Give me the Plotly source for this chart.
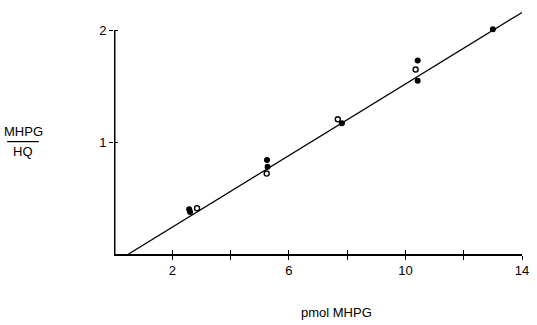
import numpy as np
import plotly.graph_objects as go

# Measured MHPG amounts (pmol) and MHPG/HQ peak-height ratios
filled_x = [2.58, 2.61, 5.25, 5.27, 7.82, 10.42, 10.42, 13.0]
filled_y = [0.40, 0.375, 0.84, 0.78, 1.17, 1.73, 1.55, 2.01]
open_x = [2.85, 5.24, 7.68, 10.35]
open_y = [0.41, 0.72, 1.205, 1.65]

# Calibration line: ratio = slope * (pmol - x0)
slope = 0.16
x0 = 0.5
line_x = np.array([x0, 14.0])
line_y = slope * (line_x - x0)

x_ticks = [2, 4, 6, 8, 10, 12, 14]
x_tick_text = ["2", "", "6", "", "10", "", "14"]
y_ticks = [1, 2]
y_tick_text = ["1", "2"]
y_max = 2.2

font = dict(family="Liberation Sans, Arial, sans-serif", size=13, color="black")

fig = go.Figure()
# Vertical axis line, stopping at the top tick
fig.add_trace(go.Scatter(x=[0, 0], y=[0, max(y_ticks)], mode="lines",
                         line=dict(color="black", width=3), showlegend=False,
                         hoverinfo="skip"))
fig.add_trace(go.Scatter(x=line_x, y=line_y, mode="lines",
                         line=dict(color="black", width=1.3), showlegend=False))
fig.add_trace(go.Scatter(x=filled_x, y=filled_y, mode="markers",
                         marker=dict(symbol="circle", size=6, color="black"),
                         showlegend=False))
fig.add_trace(go.Scatter(x=open_x, y=open_y, mode="markers",
                         marker=dict(symbol="circle-open", size=5, color="black",
                                     line=dict(width=1.4)),
                         showlegend=False))

# Fraction-style y title
fig.add_annotation(xref="paper", yref="y", x=-0.222, y=1.0, text="MHPG",
                   showarrow=False, font=font, xanchor="center", yanchor="middle",
                   yshift=11)
fig.add_annotation(xref="paper", yref="y", x=-0.222, y=1.0, text="HQ",
                   showarrow=False, font=font, xanchor="center", yanchor="middle",
                   yshift=-9)
fig.add_shape(type="line", xref="paper", yref="paper", x0=-0.262, x1=-0.184,
              y0=1.005 / y_max, y1=1.005 / y_max, line=dict(color="black", width=1.2))

# X title
fig.add_annotation(xref="paper", yref="paper", x=0.545, y=0, text="pmol MHPG",
                   showarrow=False, font=font, xanchor="center", yanchor="middle",
                   yshift=-58)

fig.update_layout(
    width=537, height=325,
    margin=dict(l=114, r=11, t=8, b=71),
    paper_bgcolor="white", plot_bgcolor="white",
    font=font,
    xaxis=dict(range=[0, 14], tickvals=x_ticks, ticktext=x_tick_text,
               ticks="outside", ticklen=4, tickwidth=1.3, tickcolor="black",
               showline=True, linecolor="black", linewidth=1.5,
               showgrid=False, zeroline=False),
    yaxis=dict(range=[0, y_max], tickvals=y_ticks, ticktext=y_tick_text,
               ticks="outside", ticklen=4, tickwidth=1.3, tickcolor="black",
               showline=False, showgrid=False, zeroline=False),
    xaxis2=dict(range=[0, 14], overlaying="x", anchor="y", side="bottom",
                tickvals=x_ticks, ticks="inside", ticklen=4, tickwidth=1.3,
                tickcolor="black", showticklabels=False, showgrid=False,
                zeroline=False),
    yaxis2=dict(range=[0, y_max], overlaying="y", anchor="x", side="left",
                tickvals=y_ticks, ticks="inside", ticklen=4, tickwidth=1.3,
                tickcolor="black", showticklabels=False, showgrid=False,
                zeroline=False),
)
# Invisible trace to activate the overlay axes that carry inner tick halves
fig.add_trace(go.Scatter(x=[0], y=[0], xaxis="x2", yaxis="y2", mode="markers",
                         marker=dict(opacity=0), showlegend=False, hoverinfo="skip"))

fig.write_html("out.html")
